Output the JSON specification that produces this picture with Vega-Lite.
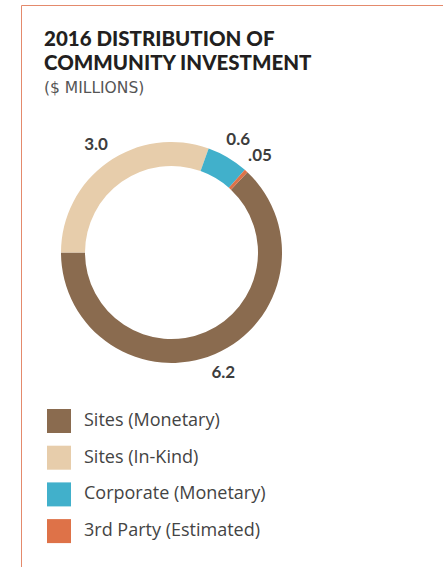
{
  "$schema": "https://vega.github.io/schema/vega-lite/v6.json",
  "autosize": "none",
  "width": 221,
  "height": 221,
  "padding": {"left": 61, "top": 142, "right": 161, "bottom": 204},
  "background": "#ffffff",
  "config": {"view": {"stroke": null}},
  "title": {
    "text": ["2016 DISTRIBUTION OF", "COMMUNITY INVESTMENT"],
    "subtitle": "($ MILLIONS)",
    "anchor": "start",
    "frame": "group",
    "orient": "top",
    "offset": -91,
    "dx": -17,
    "font": "Lato",
    "fontSize": 20.5,
    "fontWeight": 900,
    "lineHeight": 24,
    "color": "#231f20",
    "subtitleFont": "DejaVu Sans",
    "subtitleFontSize": 15.5,
    "subtitleColor": "#555555",
    "subtitlePadding": 6
  },
  "data": {
    "values": [
      {"category": "Sites (Monetary)", "value": 6.2, "label": "6.2", "k": 4},
      {"category": "Sites (In-Kind)", "value": 3.0, "label": "3.0", "k": 1},
      {"category": "Corporate (Monetary)", "value": 0.6, "label": "0.6", "k": 2},
      {"category": "3rd Party (Estimated)", "value": 0.05, "label": ".05", "k": 3}
    ]
  },
  "encoding": {
    "theta": {"field": "value", "type": "quantitative", "stack": true, "scale": {"range": [4.712389, 10.995574]}},
    "order": {"field": "k", "type": "quantitative"}
  },
  "layer": [
    {
      "mark": {"type": "point", "opacity": 0},
      "encoding": {
        "theta": null,
        "x": {"datum": 0, "type": "quantitative", "scale": {"domain": [0, 1], "range": [-40, 390]},
              "axis": {"orient": "top", "offset": 137, "domainColor": "#e48a6c", "domainWidth": 1, "ticks": false, "labels": false, "title": null, "grid": false}},
        "y": {"datum": 0, "type": "quantitative", "scale": {"domain": [0, 1], "range": [430, -137]},
              "axis": {"orient": "left", "offset": 40, "domainColor": "#e48a6c", "domainWidth": 1, "ticks": false, "labels": false, "title": null, "grid": false}}
      }
    },
    {
      "mark": {"type": "arc", "radius": 110.5, "radius2": 86.5},
      "encoding": {
        "color": {
          "field": "category",
          "type": "nominal",
          "scale": {
            "domain": ["Sites (Monetary)", "Sites (In-Kind)", "Corporate (Monetary)", "3rd Party (Estimated)"],
            "range": ["#8a6b4f", "#e7cdab", "#41b0cb", "#de7248"]
          },
          "legend": {
            "orient": "none",
            "legendX": -14,
            "legendY": 267,
            "title": null,
            "symbolType": "square",
            "symbolSize": 576,
            "symbolStrokeWidth": 0,
            "symbolOpacity": 1,
            "labelFont": "Open Sans",
            "labelFontSize": 18,
            "labelColor": "#444444",
            "labelOffset": 13,
            "labelLimit": 400,
            "rowPadding": 12.7,
            "padding": 0
          }
        }
      }
    },
    {
      "mark": {"type": "text", "radius": 131, "font": "Lato", "fontSize": 17, "fontWeight": "bold", "color": "#3d3d3d", "align": "center", "baseline": "middle"},
      "encoding": {
        "text": {"field": "label"}
      }
    }
  ]
}
